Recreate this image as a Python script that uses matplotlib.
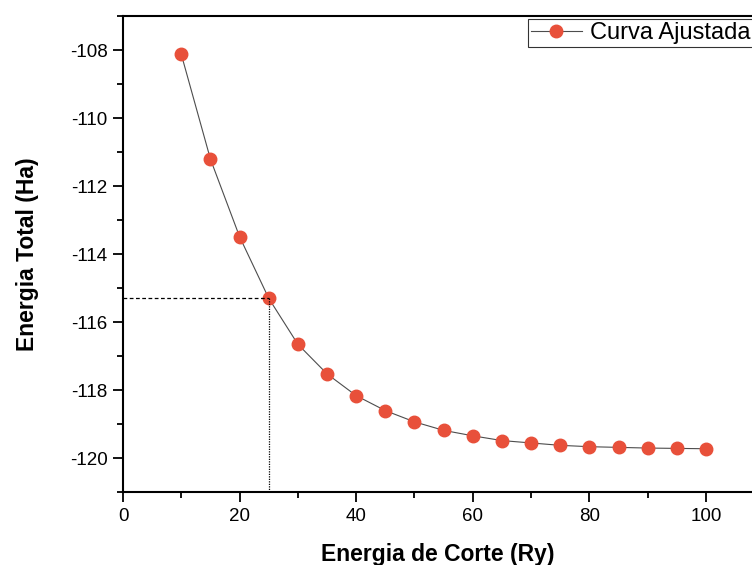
import matplotlib
matplotlib.use("Agg")
import matplotlib.pyplot as plt
from matplotlib.ticker import MultipleLocator

plt.rcParams['font.family'] = ['Liberation Sans', 'DejaVu Sans']
plt.rcParams['axes.unicode_minus'] = False

cutoff = [10, 15, 20, 25, 30, 35, 40, 45, 50, 55, 60, 65, 70, 75, 80, 85, 90, 95, 100]
energy = [-108.13, -111.21, -113.49, -115.30, -116.65, -117.52, -118.16, -118.60,
          -118.93, -119.18, -119.34, -119.48, -119.55, -119.62, -119.66, -119.68,
          -119.70, -119.71, -119.72]
chosen_x = 25
chosen_y = -115.30

fig = plt.figure(figsize=(7.52, 5.65), dpi=100)
ax = fig.add_axes([0.1636, 0.1287, 0.8364, 0.843])

ax.plot(cutoff, energy, color='#4d4d4d', lw=0.8, marker='o', markersize=9,
        markerfacecolor='#E8503A', markeredgecolor='#E8503A', label='Curva Ajustada')
ax.plot([0, chosen_x], [chosen_y, chosen_y], color='black', lw=0.9, ls=(0, (3, 2)))
ax.plot([chosen_x, chosen_x], [-121, chosen_y], color='black', lw=0.9, ls=(0, (1, 1)))

ax.set_xlim(0, 107.9)
ax.set_ylim(-121, -107)
ax.xaxis.set_major_locator(MultipleLocator(20))
ax.xaxis.set_minor_locator(MultipleLocator(10))
ax.yaxis.set_major_locator(MultipleLocator(2))
ax.yaxis.set_minor_locator(MultipleLocator(1))
ax.tick_params(which='major', direction='out', length=7, width=1.3, labelsize=13.5, pad=4)
ax.tick_params(which='minor', direction='out', length=4.5, width=1.3)
ax.spines['right'].set_visible(False)
for s in ['left', 'bottom', 'top']:
    ax.spines[s].set_linewidth(1.5)

ax.set_xlabel('Energia de Corte (Ry)', fontsize=16.5, fontweight='bold', labelpad=13.5)
ax.set_ylabel('Energia Total (Ha)', fontsize=16.5, fontweight='bold', labelpad=22)

leg = ax.legend(loc='upper left', bbox_to_anchor=(528/752, 1 - 19/565),
                bbox_transform=fig.transFigure, fontsize=17, frameon=True,
                fancybox=False, edgecolor='black', borderpad=0.12, handlelength=2.15,
                handletextpad=0.34, borderaxespad=0)
leg.get_frame().set_linewidth(0.8)

fig.savefig('out.png', dpi=100)
